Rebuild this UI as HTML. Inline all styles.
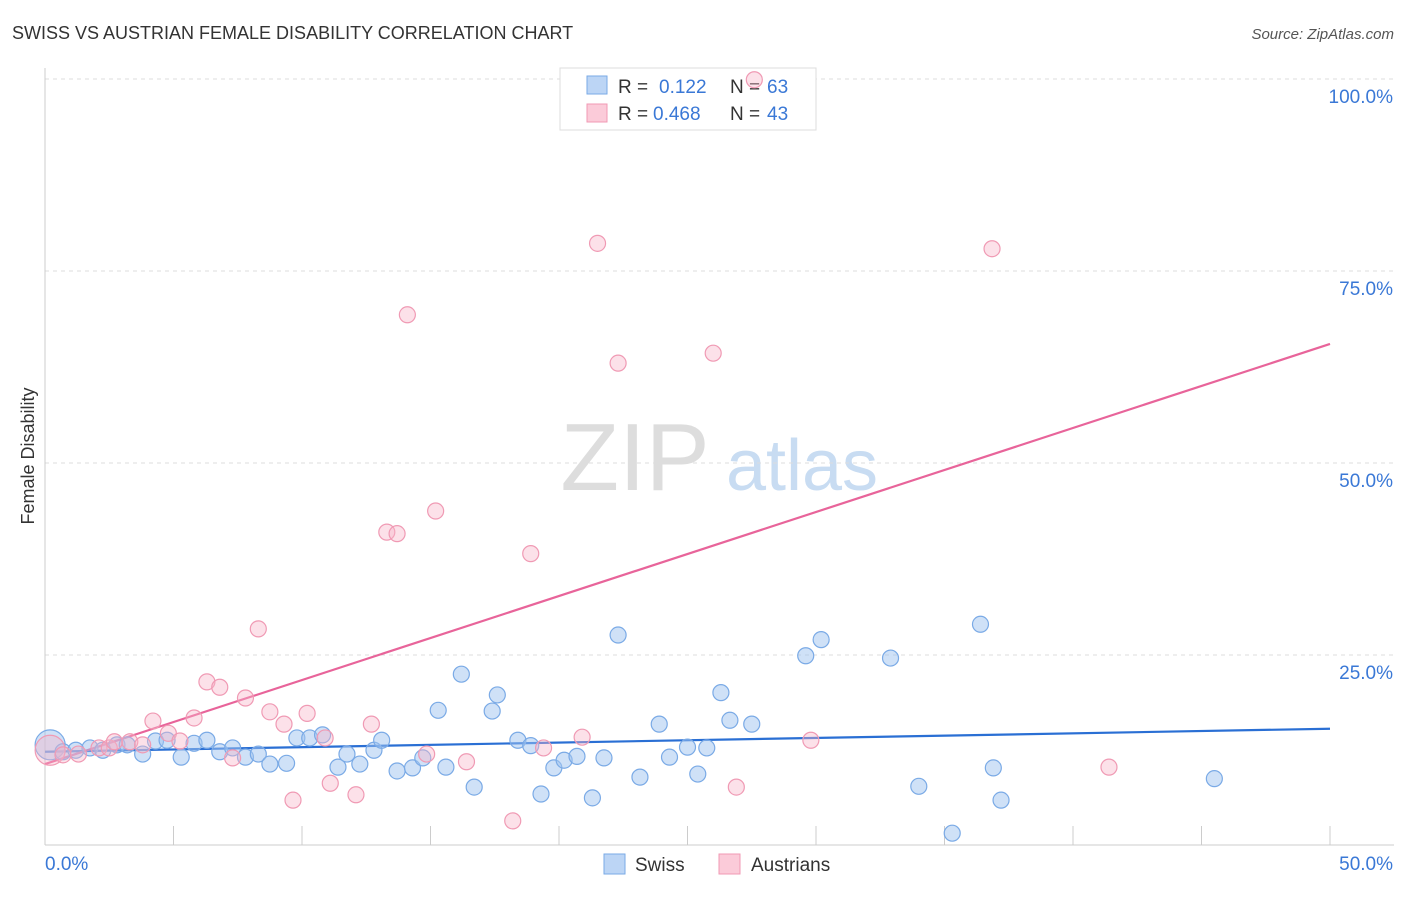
<!DOCTYPE html>
<html><head><meta charset="utf-8"><style>
body{margin:0;background:#fff;font-family:"Liberation Sans",sans-serif;}
svg text{font-family:"Liberation Sans",sans-serif;}
</style></head><body>
<svg id="chart" width="1406" height="892" viewBox="0 0 1406 892" xmlns="http://www.w3.org/2000/svg">
<text x="12" y="39" font-size="18" fill="#333">SWISS VS AUSTRIAN FEMALE DISABILITY CORRELATION CHART</text>
<text x="1394" y="39" font-size="15" fill="#555" text-anchor="end" font-style="italic">Source: ZipAtlas.com</text>
<g>
<text x="635" y="490" font-size="96" fill="#ddd" font-family="Liberation Serif" text-anchor="middle">ZIP</text>
<text x="802" y="490" font-size="72" fill="#c8dcf2" text-anchor="middle">atlas</text>
</g>
<g id="grid"></g>
<g id="axes"></g>
<text transform="translate(34,456) rotate(-90)" font-size="18" fill="#333" text-anchor="middle">Female Disability</text>
<g id="trends"></g>
<g>
<rect x="560" y="68" width="256" height="62" fill="#fff" stroke="#ddd"/>
<rect x="587" y="76" width="20" height="18" fill="#bcd5f5" stroke="#7aaae6"/>
<text x="618" y="93" font-size="19" fill="#333">R = </text><text x="659" y="93" font-size="19" fill="#3a78d6">0.122</text>
<text x="730" y="93" font-size="19" fill="#333">N = </text><text x="767" y="93" font-size="19" fill="#3a78d6">63</text>
<rect x="587" y="104" width="20" height="18" fill="#fbcbd9" stroke="#f09ab4"/>
<text x="618" y="120" font-size="19" fill="#333">R = </text><text x="653" y="120" font-size="19" fill="#3a78d6">0.468</text>
<text x="730" y="120" font-size="19" fill="#333">N = </text><text x="767" y="120" font-size="19" fill="#3a78d6">43</text>
</g>
<g id="points"></g>
<g>
<rect x="604" y="854" width="21" height="20" fill="#bcd5f5" stroke="#7aaae6"/>
<text x="635" y="871" font-size="19" fill="#333">Swiss</text>
<rect x="719" y="854" width="21" height="20" fill="#fbcbd9" stroke="#f09ab4"/>
<text x="751" y="871" font-size="19" fill="#333">Austrians</text>
</g>
</svg>
<script>
const swissX=[0.2,0.7,1.2,1.75,2.25,2.8,3.2,3.8,4.3,4.75,5.3,5.8,6.3,6.8,7.3,7.8,8.3,8.75,9.4,9.8,10.3,10.8,11.4,11.75,12.25,12.8,13.1,13.7,14.3,14.7,15.6,15.3,16.2,16.7,17.4,17.6,18.4,18.9,19.3,19.8,20.2,20.7,21.3,21.75,22.3,23.15,23.9,24.3,25.0,25.4,25.75,26.3,26.65,27.5,29.6,30.2,32.9,34.0,35.3,36.4,36.9,37.2,45.5];
const swissY=[13.3,12.4,12.6,12.9,12.6,13.3,13.3,12.1,13.8,13.9,11.7,13.5,13.9,12.4,12.9,11.7,12.1,10.8,10.9,14.2,14.2,14.6,10.4,12.1,10.8,12.6,13.9,9.9,10.3,11.6,10.4,17.8,22.5,7.8,17.7,19.8,13.9,13.2,6.9,10.3,11.3,11.8,6.4,11.6,27.6,9.1,16.0,11.7,13.0,9.5,12.9,20.1,16.5,16.0,24.9,27.0,24.6,7.9,1.8,29.0,10.3,6.1,8.9];
const ausX=[0.2,0.7,1.3,2.1,2.5,2.7,3.3,3.8,4.2,4.8,5.25,5.8,6.3,6.8,7.3,7.8,8.3,8.75,9.3,9.65,10.2,10.9,11.1,12.1,12.7,13.3,13.7,14.1,14.85,15.2,16.4,18.2,18.9,19.4,20.9,21.5,22.3,26.0,26.9,27.6,29.8,36.85,41.4];
const ausY=[12.6,12.0,12.1,12.9,12.9,13.7,13.7,13.3,16.4,14.8,13.8,16.8,21.5,20.8,11.6,19.4,28.4,17.6,16.0,6.1,17.4,14.2,8.3,6.8,16.0,41.0,40.8,69.3,12.1,43.75,11.1,3.4,38.2,12.9,14.3,78.6,63.0,64.3,7.8,99.9,13.9,77.9,10.4];
const trendX=[0,50];
const swissTrend=[12.4,15.4];
const ausTrend=[10.8,65.5];
const xTicks=[0,50];
const yTicks=[25,50,75,100];
const NS="http://www.w3.org/2000/svg";
const X=v=>45+v/50*1285;
const Y=v=>847-v*7.68;
function mk(tag,attrs,parent){const e=document.createElementNS(NS,tag);for(const k in attrs)e.setAttribute(k,attrs[k]);parent.appendChild(e);return e;}
const grid=document.getElementById('grid'),axes=document.getElementById('axes');
yTicks.forEach(t=>{
 const l=mk('line',{x1:45,x2:1394,y1:Y(t),y2:Y(t),stroke:'#ddd','stroke-dasharray':'4,4'},grid);
 
 
 const tx=mk('text',{x:1393,y:Y(t)+24,'font-size':19,fill:'#3a78d6','text-anchor':'end'},axes);
 tx.textContent=t.toFixed(1)+'%';
 
 
});
mk('line',{x1:45,x2:45,y1:68,y2:845,stroke:'#ccc'},axes);
mk('line',{x1:45,x2:1394,y1:845,y2:845,stroke:'#ccc'},axes);
for(let i=0;i<=10;i++){const v=i*5;const l=mk('line',{x1:X(v),x2:X(v),y1:826,y2:845,stroke:'#ccc'},axes);
 
 }
xTicks.forEach((t,i)=>{const tx=mk('text',{x:i==0?45:1393,y:870,'font-size':19,fill:'#3a78d6','text-anchor':i==0?'start':'end'},axes);
 tx.textContent=t.toFixed(1)+'%';
 
 });
const pts=document.getElementById('points');
function dots(xs,ys,fill,stroke,name){xs.forEach((x,i)=>{
 const c=mk('circle',{cx:X(x),cy:Y(ys[i]),r:i==0?15:8,fill:fill,stroke:stroke,'stroke-width':1.2},pts);
 
 });}
dots(swissX,swissY,'rgba(160,196,240,0.5)','#7aaae6','swiss-point');
dots(ausX,ausY,'rgba(248,180,200,0.4)','#f09ab4','austrians-point');
const tr=document.getElementById('trends');
const l1=mk('line',{x1:X(trendX[0]),y1:Y(swissTrend[0]),x2:X(trendX[1]),y2:Y(swissTrend[1]),stroke:'#2a6fd4','stroke-width':2.2},tr);


const l2=mk('line',{x1:X(trendX[0]),y1:Y(ausTrend[0]),x2:X(trendX[1]),y2:Y(ausTrend[1]),stroke:'#e8649a','stroke-width':2.2},tr);


</script>
</body></html>
